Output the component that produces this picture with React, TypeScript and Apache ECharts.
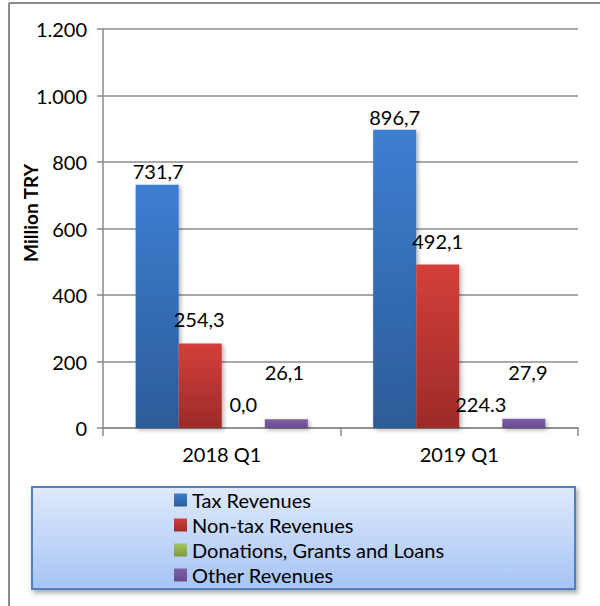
import React, { useEffect, useRef } from "react";
import * as echarts from "echarts";

const categories = ["2018 Q1", "2019 Q1"];
const seriesNames = ["Tax Revenues", "Non-tax Revenues", "Donations, Grants and Loans", "Other Revenues"];
const taxRevenues = [731.7, 896.7];
const nonTaxRevenues = [254.3, 492.1];
const donations = [0, 0];
const otherRevenues = [26.1, 27.9];
const labelTexts = [
  ["731,7", "896,7"],
  ["254,3", "492,1"],
  ["0,0", "224.3"],
  ["26,1", "27,9"],
];
const yTicks = [0, 200, 400, 600, 800, 1000, 1200];

const labelOffsets = [
  [[1, 1], [0, 2]],
  [[-1, -9], [0, -8]],
  [[0, -9], [0, -9]],
  [[-2, -32], [4, -32]],
];

const colors = [
  ["#3d7ed2", "#2c5c98"],
  ["#d43f3b", "#9d2b28"],
  ["#a4c45c", "#7f9a3f"],
  ["#7f60a8", "#674b8e"],
];

const FONT = "Lato";
const FS = 20;

export default function App() {
  const ref = useRef<HTMLDivElement>(null);
  useEffect(() => {
    if (!ref.current) return;
    const chart = echarts.init(ref.current, null, { renderer: "svg" });
    const values = [taxRevenues, nonTaxRevenues, donations, otherRevenues];
    const fmt = (v: number) => {
      const s = String(Math.round(v));
      return s.replace(/\B(?=(\d{3})+(?!\d))/g, ".");
    };
    chart.setOption({
      animation: false,
      backgroundColor: "#ffffff",
      textStyle: { fontFamily: FONT },
      grid: { left: 103, right: 22, top: 29, bottom: 178, containLabel: false },
      xAxis: {
        type: "category",
        data: categories,
        axisLine: { lineStyle: { color: "#888888", width: 1.5 } },
        axisTick: { show: true, length: 8, lineStyle: { color: "#888888", width: 1.5 } },
        axisLabel: { color: "#000", fontSize: FS, fontFamily: FONT, margin: 16 },
      },
      yAxis: {
        type: "value",
        min: 0,
        max: 1200,
        interval: 200,
        axisLine: { show: true, lineStyle: { color: "#888888", width: 1.5 } },
        axisTick: { show: true, length: 6, lineStyle: { color: "#888888", width: 1.5 } },
        axisLabel: { color: "#000", fontSize: FS, fontFamily: FONT, margin: 16, formatter: (v: number) => (yTicks.includes(v) ? fmt(v) : "") },
        splitLine: { show: true, lineStyle: { color: "#8c8c8c", width: 1.5 } },
      },
      legend: {
        orient: "vertical",
        left: 174,
        top: 490,
        padding: 0,
        itemWidth: 13,
        itemHeight: 13,
        itemGap: 5,
        icon: "rect",
        textStyle: { fontSize: FS, lineHeight: 20, color: "#000", fontFamily: FONT },
        data: seriesNames,
        z: 10,
      },
      graphic: [
        { type: "line", shape: { x1: 9, y1: 3, x2: 600, y2: 3 }, style: { stroke: "#8c8c8c", lineWidth: 2 }, z: 1 },
        { type: "line", shape: { x1: 9, y1: 3, x2: 9, y2: 606 }, style: { stroke: "#8c8c8c", lineWidth: 2 }, z: 1 },
        {
          type: "rect",
          shape: { x: 32, y: 487, width: 543, height: 102 },
          style: {
            fill: new echarts.graphic.LinearGradient(0, 0, 0, 1, [
              { offset: 0, color: "#dfe9fb" },
              { offset: 1, color: "#a6c4f5" },
            ]),
            stroke: "#4f81bd",
            lineWidth: 2,
            shadowBlur: 5,
            shadowOffsetX: 2,
            shadowOffsetY: 3,
            shadowColor: "rgba(0,0,0,0.35)",
          },
          z: 1,
        },
        {
          type: "text",
          x: 30,
          y: 213,
          rotation: Math.PI / 2,
          style: { text: "Million TRY", font: `bold 19px ${FONT}`, fill: "#000", align: "center", verticalAlign: "middle" },
          z: 5,
        },
      ],
      series: seriesNames.map((name, si) => ({
        name,
        type: "bar",
        barGap: "0%",
        barCategoryGap: "27.5%",
        itemStyle: {
          color: new echarts.graphic.LinearGradient(0, 0, 0, 1, [
            { offset: 0, color: colors[si][0] },
            { offset: 1, color: colors[si][1] },
          ]),
          shadowBlur: 4,
          shadowOffsetX: 2,
          shadowOffsetY: 2,
          shadowColor: "rgba(0,0,0,0.3)",
        },
        data: values[si].map((v, i) => ({
          value: v,
          label: {
            show: true,
            position: "top",
            distance: 5,
            offset: labelOffsets[si][i],
            formatter: labelTexts[si][i],
            color: "#000",
            fontSize: FS,
            fontFamily: FONT,
          },
        })),
      })),
    });
    return () => chart.dispose();
  }, []);
  return <div ref={ref} style={{ position: "fixed", left: 0, top: 0, width: 600, height: 606 }} />;
}
